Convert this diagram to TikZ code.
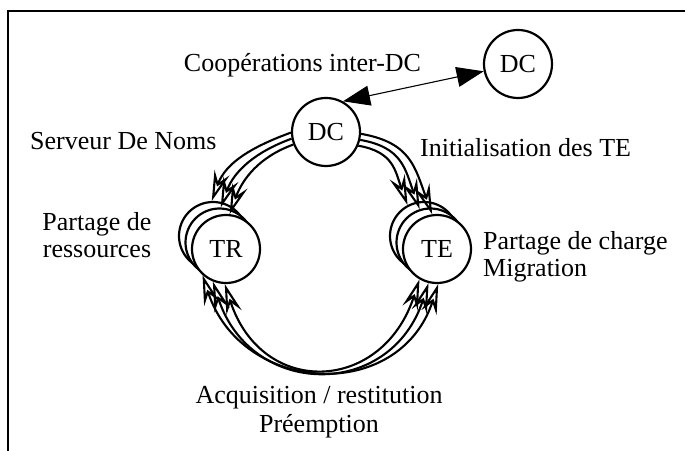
\documentclass[tikz,border=0pt]{standalone}
\usepackage{fontspec}
\setmainfont{Liberation Serif}
\usetikzlibrary{arrows.meta}
\begin{document}
\begin{tikzpicture}[x=1pt,y=1pt,
  ring/.style={circle, draw, line width=2.2pt, fill=white, minimum size=68pt,
    inner sep=0pt, font=\fontsize{26}{30}\selectfont},
  lbl/.style={inner sep=0pt, font=\fontsize{26}{30}\selectfont},
  flow/.style={line width=2.1pt,
    -{Stealth[length=30pt, width=16pt, inset=11pt, open]}},
  twoway/.style={line width=2.1pt,
    {Stealth[length=30pt, width=16pt, inset=11pt, open]}-{Stealth[length=30pt, width=16pt, inset=11pt, open]}},
  link/.style={line width=1.1pt,
    {Triangle[length=27pt,width=20pt]}-{Triangle[length=27pt,width=20pt]}}
]
\useasboundingbox (0,0) rectangle (685,450);
% open frame: left and top edges only
\draw[line width=2.2pt] (8,-5) -- (8,439) -- (690,439);

% domain controllers
\node[ring] (dc) at (326,318) {DC};
\node[ring] (dcx) at (518,386) {DC};
% stacked resource tasks
\node[ring] (tr1) at (213,214) {};
\node[ring] (tr2) at (219.5,207.5) {};
\node[ring] (tr3) at (226,201) {TR};
% stacked execution tasks
\node[ring] (te1) at (424,214) {};
\node[ring] (te2) at (430.5,207.5) {};
\node[ring] (te3) at (437,201) {TE};

% inter-DC cooperation
\draw[link] (dc.61) -- (dcx.192);

% name server links to TR
\draw[flow] (dc.181) to[out=200,in=70] (tr1.92);
\draw[flow] (dc.191) to[out=200,in=70] (tr2.88);
\draw[flow] (dc.201) to[out=200,in=70] (tr3.84);

% TE initialisation
\draw[flow] (dc.-3)  to[out=-10,in=110,looseness=1.2] (te3.98);
\draw[flow] (dc.-13) to[out=-10,in=110,looseness=1.2] (te2.108);
\draw[flow] (dc.-23) to[out=-10,in=110,looseness=1.2] (te1.118);

% acquisition / restitution between TR and TE
\draw[twoway] (tr3.228) to[out=-72,in=-108,distance=126pt] (te3.272);
\draw[twoway] (tr3.248) to[out=-72,in=-108,distance=123pt] (te3.256);
\draw[twoway] (tr3.268) to[out=-72,in=-108,distance=120pt] (te3.240);

% labels
\node[lbl, anchor=base] (coop) at (302.5,378) {Coopérations inter-DC};
\node[lbl, anchor=base west] (sdn) at (30,300) {Serveur De Noms};
\node[lbl, anchor=base] (pdr1) at (97,219) {Partage de};
\node[lbl, anchor=base] (pdr2) at (97,192) {ressources};
\node[lbl, anchor=base west] (init) at (420,293) {Initialisation des TE};
\node[lbl, anchor=base west] (pdc1) at (483,200) {Partage de charge};
\node[lbl, anchor=base west] (pdc2) at (483,173) {Migration};
\node[lbl, anchor=base] (acq1) at (319,47) {Acquisition / restitution};
\node[lbl, anchor=base] (acq2) at (319,18) {Préemption};
\end{tikzpicture}
\end{document}
